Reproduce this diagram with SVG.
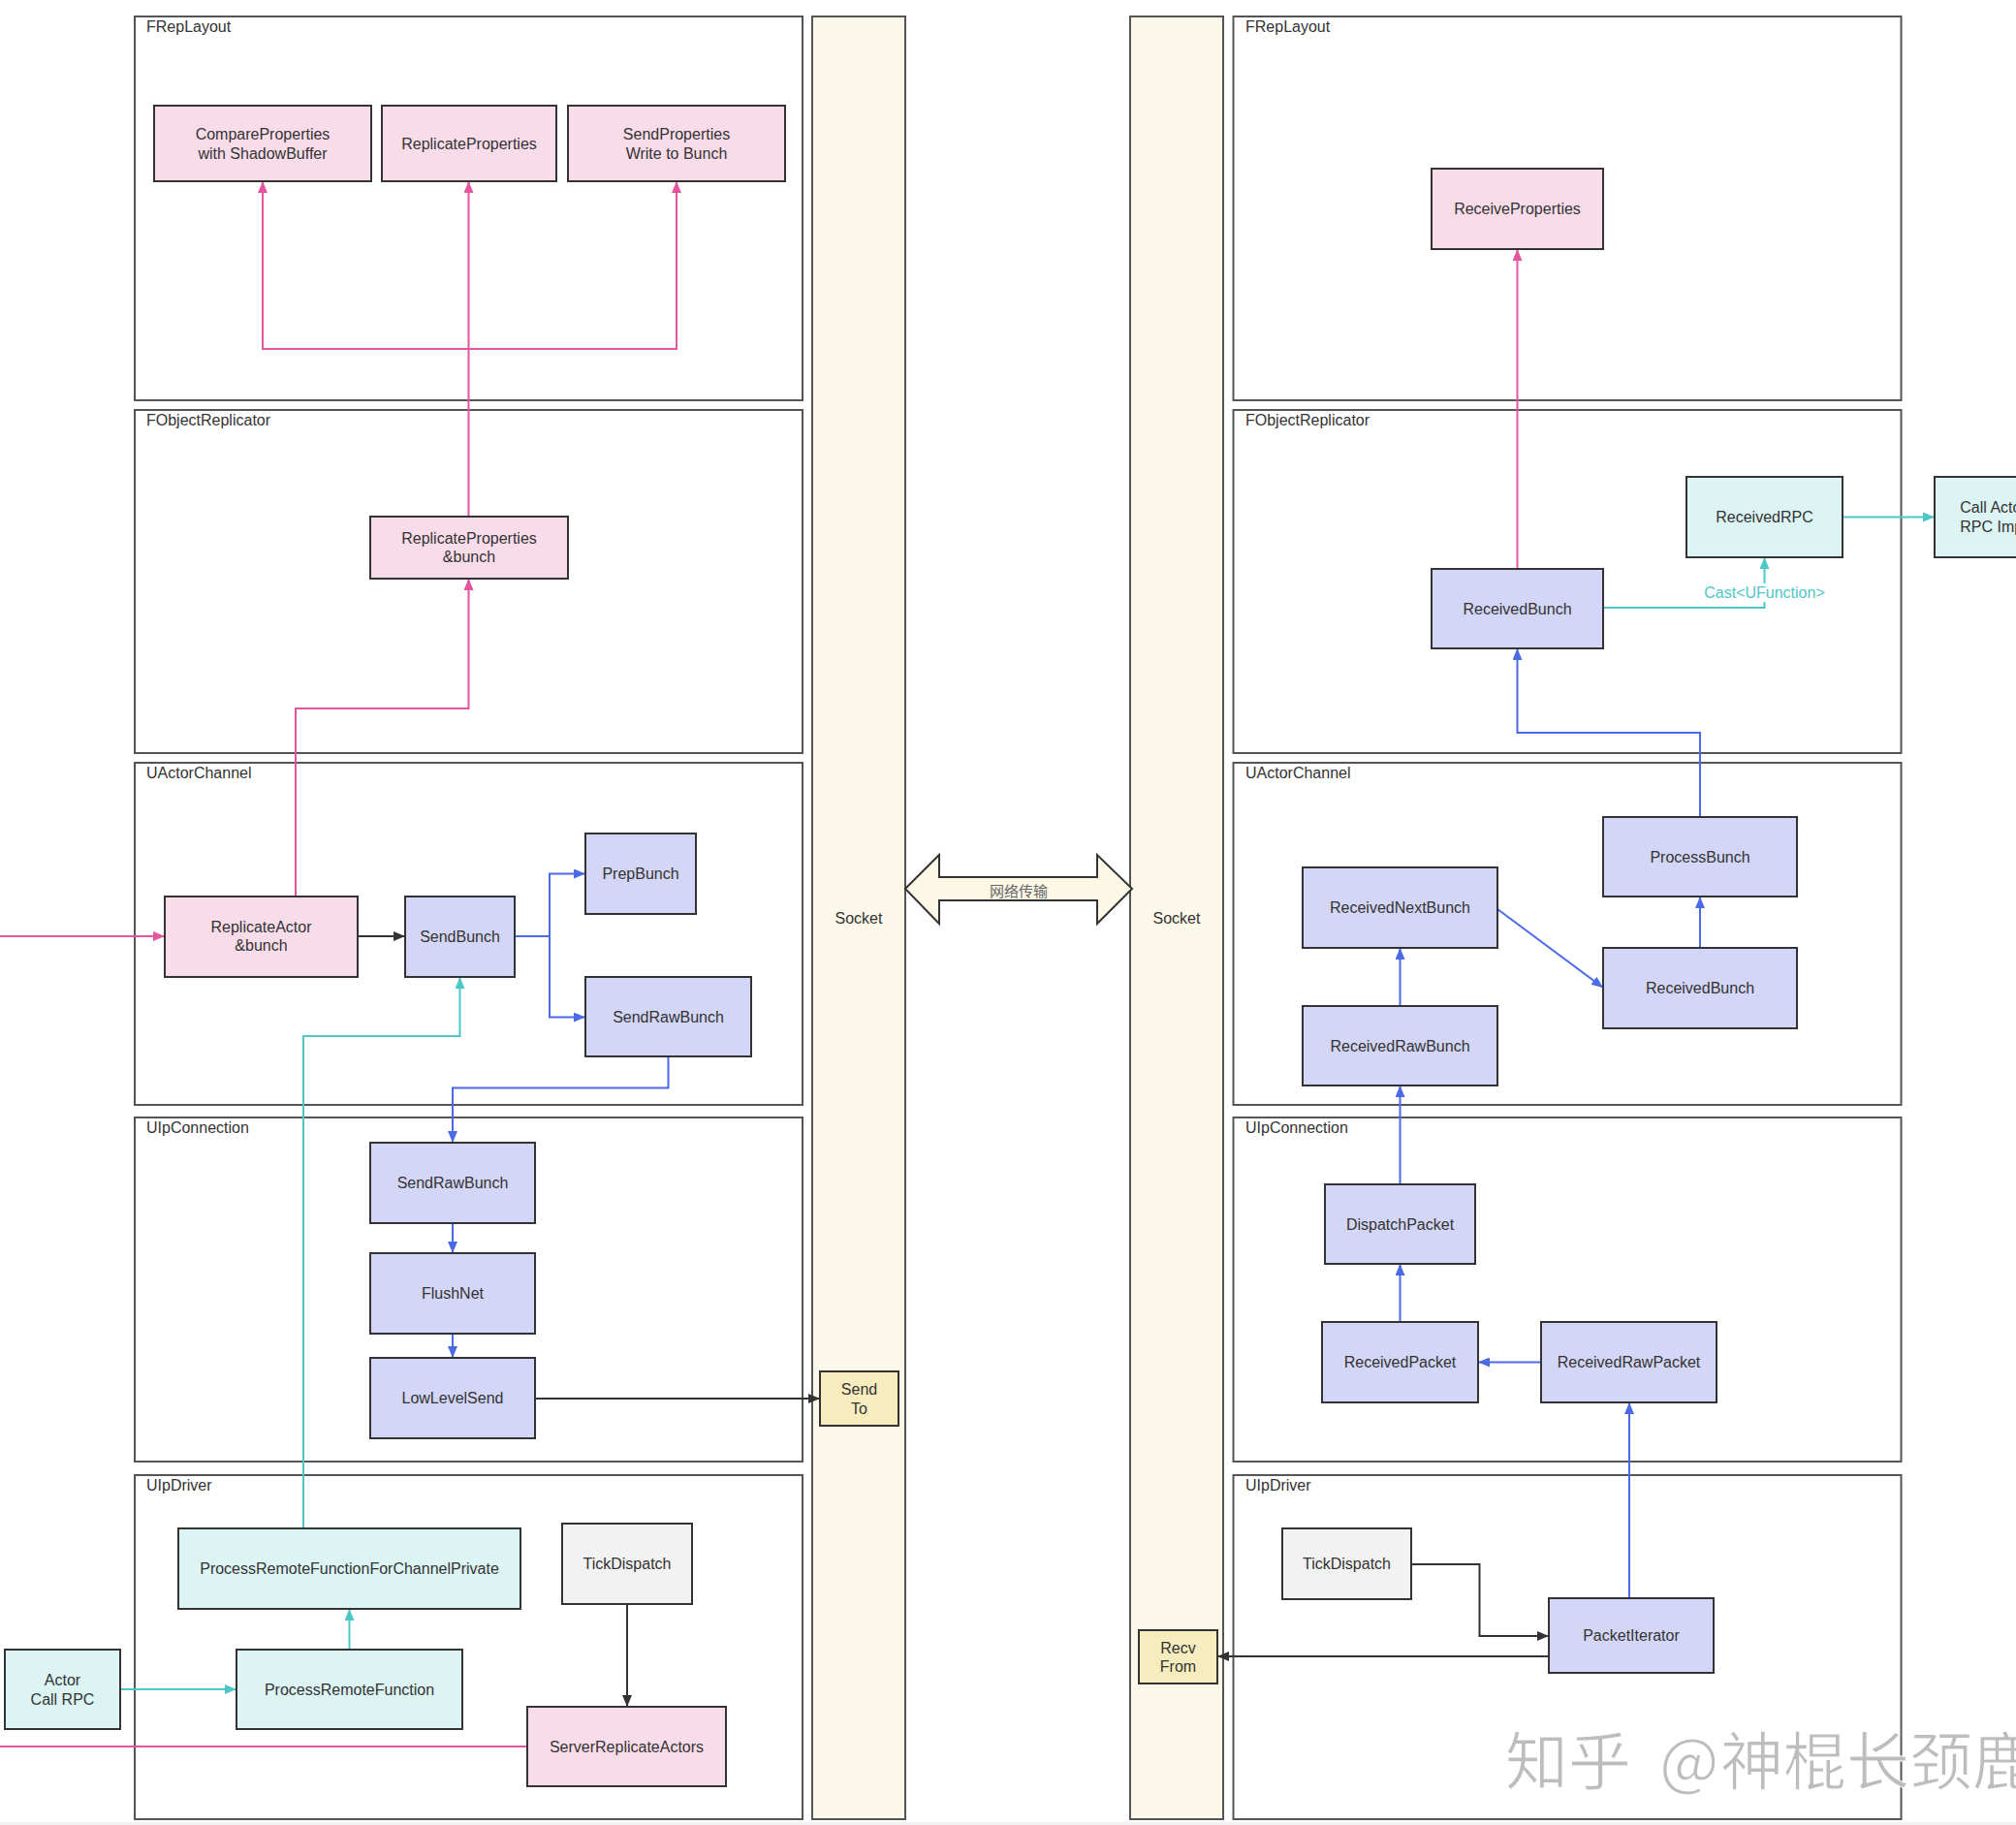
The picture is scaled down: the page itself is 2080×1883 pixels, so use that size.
<svg xmlns="http://www.w3.org/2000/svg" width="2080" height="1883" viewBox="0 0 2080 1883">
<style>
.bg{fill:#ffffff}
.cont{fill:#ffffff;stroke:#555555;stroke-width:2}
.sock{fill:#fcf8e9;stroke:#555555;stroke-width:2}
.clabel{font-family:"Liberation Sans",Arial,sans-serif;font-size:16px;fill:#333333}
.nt{font-family:"Liberation Sans",Arial,sans-serif;font-size:16px;fill:#333333;text-anchor:middle}
.pink{fill:#f9dcea;stroke:#333333;stroke-width:2}
.blue{fill:#d3d6f7;stroke:#333333;stroke-width:2}
.cyan{fill:#dcf4f3;stroke:#333333;stroke-width:2}
.gray{fill:#f2f2f2;stroke:#333333;stroke-width:2}
.yel{fill:#f7ecbe;stroke:#333333;stroke-width:2}
.c{fill:none;stroke-width:2}
.cp{stroke:#e5549e}
.cb{stroke:#4a6ae6}
.cc{stroke:#4ec8c6}
.ck{stroke:#333333}
.wm{font-family:"Noto Sans CJK SC",sans-serif;font-size:65px;fill:#bdbdbd;stroke:#ffffff;stroke-width:1}
</style>
<defs>
<marker id="ap" viewBox="0 0 12 10" refX="12" refY="5" markerWidth="12" markerHeight="10" markerUnits="userSpaceOnUse" orient="auto"><path d="M0,0 L12,5 L0,10 z" fill="#e5549e"/></marker>
<marker id="ab" viewBox="0 0 12 10" refX="12" refY="5" markerWidth="12" markerHeight="10" markerUnits="userSpaceOnUse" orient="auto"><path d="M0,0 L12,5 L0,10 z" fill="#4a6ae6"/></marker>
<marker id="ac" viewBox="0 0 12 10" refX="12" refY="5" markerWidth="12" markerHeight="10" markerUnits="userSpaceOnUse" orient="auto"><path d="M0,0 L12,5 L0,10 z" fill="#4ec8c6"/></marker>
<marker id="ak" viewBox="0 0 12 10" refX="12" refY="5" markerWidth="12" markerHeight="10" markerUnits="userSpaceOnUse" orient="auto"><path d="M0,0 L12,5 L0,10 z" fill="#333333"/></marker>
</defs>
<rect class="bg" x="0" y="0" width="2080" height="1883"/>
<rect x="0" y="1880" width="2080" height="3" fill="#f1f1f1"/>

<g id="containers">
<g id="left-FRepLayout"><rect class="cont" x="139" y="17" width="689" height="396"/><text class="clabel" x="151" y="33">FRepLayout</text></g>
<g id="left-FObjectReplicator"><rect class="cont" x="139" y="423" width="689" height="354"/><text class="clabel" x="151" y="439">FObjectReplicator</text></g>
<g id="left-UActorChannel"><rect class="cont" x="139" y="787" width="689" height="353"/><text class="clabel" x="151" y="803">UActorChannel</text></g>
<g id="left-UIpConnection"><rect class="cont" x="139" y="1153" width="689" height="355"/><text class="clabel" x="151" y="1169">UIpConnection</text></g>
<g id="left-UIpDriver"><rect class="cont" x="139" y="1522" width="689" height="355"/><text class="clabel" x="151" y="1538">UIpDriver</text></g>
<g id="left-Socket"><rect class="sock" x="838" y="17" width="96" height="1860"/><text class="nt" x="886" y="953">Socket</text></g>
<g id="right-Socket"><rect class="sock" x="1166" y="17" width="96" height="1860"/><text class="nt" x="1214" y="953">Socket</text></g>
<g id="right-FRepLayout"><rect class="cont" x="1272.5" y="17" width="689" height="396"/><text class="clabel" x="1285" y="33">FRepLayout</text></g>
<g id="right-FObjectReplicator"><rect class="cont" x="1272.5" y="423" width="689" height="354"/><text class="clabel" x="1285" y="439">FObjectReplicator</text></g>
<g id="right-UActorChannel"><rect class="cont" x="1272.5" y="787" width="689" height="353"/><text class="clabel" x="1285" y="803">UActorChannel</text></g>
<g id="right-UIpConnection"><rect class="cont" x="1272.5" y="1153" width="689" height="355"/><text class="clabel" x="1285" y="1169">UIpConnection</text></g>
<g id="right-UIpDriver"><rect class="cont" x="1272.5" y="1522" width="689" height="355"/><text class="clabel" x="1285" y="1538">UIpDriver</text></g>
</g>

<g id="network-arrow">
<path d="M934,917 L969,882 L969,905 L1132,905 L1132,882 L1168,917 L1132,953 L1132,929 L969,929 L969,953 Z" fill="#fdf8e6" stroke="#333333" stroke-width="2"/>
<text x="1051" y="925" font-family="'Noto Sans CJK SC','Noto Sans',sans-serif" font-size="15" fill="#666666" text-anchor="middle">网络传输</text>
</g>

<g id="connectors">
<path class="c cp" d="M483.5,533 V187" marker-end="url(#ap)"/>
<path class="c cp" d="M483.5,360 H271 V187" marker-end="url(#ap)"/>
<path class="c cp" d="M483.5,360 H698 V187" marker-end="url(#ap)"/>
<path class="c cp" d="M305,925 V731 H483.5 V597" marker-end="url(#ap)"/>
<path class="c cp" d="M0,966 H170" marker-end="url(#ap)"/>
<path class="c cp" d="M544,1802 H0"/>
<path class="c cp" d="M1565.5,587 V257" marker-end="url(#ap)"/>

<path class="c ck" d="M369,966 H418" marker-end="url(#ak)"/>
<path class="c ck" d="M552,1443 H846" marker-end="url(#ak)"/>
<path class="c ck" d="M647,1655 V1761" marker-end="url(#ak)"/>
<path class="c ck" d="M1456,1614 H1526.5 V1688 H1598" marker-end="url(#ak)"/>
<path class="c ck" d="M1598,1709 H1256" marker-end="url(#ak)"/>

<path class="c cb" d="M531,966 H567 V901.5 H604" marker-end="url(#ab)"/>
<path class="c cb" d="M567,966 V1049.5 H604" marker-end="url(#ab)"/>
<path class="c cb" d="M689.5,1090 V1122.5 H467 V1179" marker-end="url(#ab)"/>
<path class="c cb" d="M467,1262 V1293" marker-end="url(#ab)"/>
<path class="c cb" d="M467,1376 V1401" marker-end="url(#ab)"/>
<path class="c cb" d="M1754,843 V756 H1565.5 V669" marker-end="url(#ab)"/>
<path class="c cb" d="M1545,938 L1654,1019" marker-end="url(#ab)"/>
<path class="c cb" d="M1754,978 V925" marker-end="url(#ab)"/>
<path class="c cb" d="M1444.5,1038 V978" marker-end="url(#ab)"/>
<path class="c cb" d="M1444.5,1222 V1120" marker-end="url(#ab)"/>
<path class="c cb" d="M1444.5,1364 V1304" marker-end="url(#ab)"/>
<path class="c cb" d="M1590,1405.5 H1525" marker-end="url(#ab)"/>
<path class="c cb" d="M1681,1649 V1447" marker-end="url(#ab)"/>

<path class="c cc" d="M313,1577 V1069 H474.5 V1008" marker-end="url(#ac)"/>
<path class="c cc" d="M360.5,1702 V1660" marker-end="url(#ac)"/>
<path class="c cc" d="M124,1743 H244" marker-end="url(#ac)"/>
<path class="c cc" d="M1654,627 H1820.5 V575" marker-end="url(#ac)"/>
<path class="c cc" d="M1901,533.5 H1996" marker-end="url(#ac)"/>
<g id="label-cast">
<rect x="1755" y="602" width="131" height="19" fill="#ffffff"/>
<text x="1820.5" y="617" font-family="'Liberation Sans',Arial,sans-serif" font-size="16" fill="#4ec8c6" text-anchor="middle">Cast&lt;UFunction&gt;</text>
</g>
</g>

<g id="n_compare"><rect class="pink" x="159" y="109" width="224" height="78"/><text class="nt" x="271" y="143.5">CompareProperties</text><text class="nt" x="271" y="163.5">with ShadowBuffer</text></g>
<g id="n_repprops"><rect class="pink" x="394" y="109" width="180" height="78"/><text class="nt" x="484" y="153.5">ReplicateProperties</text></g>
<g id="n_sendprops"><rect class="pink" x="586" y="109" width="224" height="78"/><text class="nt" x="698" y="143.5">SendProperties</text><text class="nt" x="698" y="163.5">Write to Bunch</text></g>
<g id="n_repbunch"><rect class="pink" x="382" y="533" width="204" height="64"/><text class="nt" x="484" y="561">ReplicateProperties</text><text class="nt" x="484" y="580">&amp;bunch</text></g>
<g id="n_repactor"><rect class="pink" x="170" y="925" width="199" height="83"/><text class="nt" x="269.5" y="962">ReplicateActor</text><text class="nt" x="269.5" y="981">&amp;bunch</text></g>
<g id="n_sendbunch"><rect class="blue" x="418" y="925" width="113" height="83"/><text class="nt" x="474.5" y="972">SendBunch</text></g>
<g id="n_prepbunch"><rect class="blue" x="604" y="860" width="114" height="83"/><text class="nt" x="661" y="907">PrepBunch</text></g>
<g id="n_sendraw1"><rect class="blue" x="604" y="1008" width="171" height="82"/><text class="nt" x="689.5" y="1054.5">SendRawBunch</text></g>
<g id="n_sendraw2"><rect class="blue" x="382" y="1179" width="170" height="83"/><text class="nt" x="467" y="1226">SendRawBunch</text></g>
<g id="n_flushnet"><rect class="blue" x="382" y="1293" width="170" height="83"/><text class="nt" x="467" y="1340">FlushNet</text></g>
<g id="n_lowlevel"><rect class="blue" x="382" y="1401" width="170" height="83"/><text class="nt" x="467" y="1448">LowLevelSend</text></g>
<g id="n_sendto"><rect class="yel" x="846" y="1415" width="81" height="56"/><text class="nt" x="886.5" y="1438.5">Send</text><text class="nt" x="886.5" y="1458.5">To</text></g>
<g id="n_prffcp"><rect class="cyan" x="184" y="1577" width="353" height="83"/><text class="nt" x="360.5" y="1624">ProcessRemoteFunctionForChannelPrivate</text></g>
<g id="n_tick1"><rect class="gray" x="580" y="1572" width="134" height="83"/><text class="nt" x="647" y="1619">TickDispatch</text></g>
<g id="n_actorrpc"><rect class="cyan" x="5" y="1702" width="119" height="82"/><text class="nt" x="64.5" y="1739">Actor</text><text class="nt" x="64.5" y="1759">Call RPC</text></g>
<g id="n_prf"><rect class="cyan" x="244" y="1702" width="233" height="82"/><text class="nt" x="360.5" y="1748.5">ProcessRemoteFunction</text></g>
<g id="n_sra"><rect class="pink" x="544" y="1761" width="205" height="82"/><text class="nt" x="646.5" y="1807.5">ServerReplicateActors</text></g>

<g id="n_recvprops"><rect class="pink" x="1477" y="174" width="177" height="83"/><text class="nt" x="1565.5" y="221">ReceiveProperties</text></g>
<g id="n_recvrpc"><rect class="cyan" x="1740" y="492" width="161" height="83"/><text class="nt" x="1820.5" y="539">ReceivedRPC</text></g>
<g id="n_callactor"><rect class="cyan" x="1996" y="492" width="121" height="83"/><text class="nt" x="2056.5" y="529">Call Actor</text><text class="nt" x="2056.5" y="549">RPC Impl</text></g>
<g id="n_recvbunch1"><rect class="blue" x="1477" y="587" width="177" height="82"/><text class="nt" x="1565.5" y="633.5">ReceivedBunch</text></g>
<g id="n_processbunch"><rect class="blue" x="1654" y="843" width="200" height="82"/><text class="nt" x="1754" y="889.5">ProcessBunch</text></g>
<g id="n_recvbunch2"><rect class="blue" x="1654" y="978" width="200" height="83"/><text class="nt" x="1754" y="1025">ReceivedBunch</text></g>
<g id="n_recvnext"><rect class="blue" x="1344" y="895" width="201" height="83"/><text class="nt" x="1444.5" y="942">ReceivedNextBunch</text></g>
<g id="n_recvrawbunch"><rect class="blue" x="1344" y="1038" width="201" height="82"/><text class="nt" x="1444.5" y="1084.5">ReceivedRawBunch</text></g>
<g id="n_dispatch"><rect class="blue" x="1367" y="1222" width="155" height="82"/><text class="nt" x="1444.5" y="1268.5">DispatchPacket</text></g>
<g id="n_recvpacket"><rect class="blue" x="1364" y="1364" width="161" height="83"/><text class="nt" x="1444.5" y="1411">ReceivedPacket</text></g>
<g id="n_recvrawpacket"><rect class="blue" x="1590" y="1364" width="181" height="83"/><text class="nt" x="1680.5" y="1411">ReceivedRawPacket</text></g>
<g id="n_tick2"><rect class="gray" x="1323" y="1577" width="133" height="73"/><text class="nt" x="1389.5" y="1619">TickDispatch</text></g>
<g id="n_packetiter"><rect class="blue" x="1598" y="1649" width="170" height="77"/><text class="nt" x="1683" y="1693">PacketIterator</text></g>
<g id="n_recvfrom"><rect class="yel" x="1175" y="1682" width="81" height="55"/><text class="nt" x="1215.5" y="1705.5">Recv</text><text class="nt" x="1215.5" y="1724.5">From</text></g>

<g id="watermark">
<text class="wm" x="1553" y="1841">知乎<tspan x="1712">@</tspan><tspan x="1775">神棍长颈鹿</tspan></text>
</g>
</svg>
